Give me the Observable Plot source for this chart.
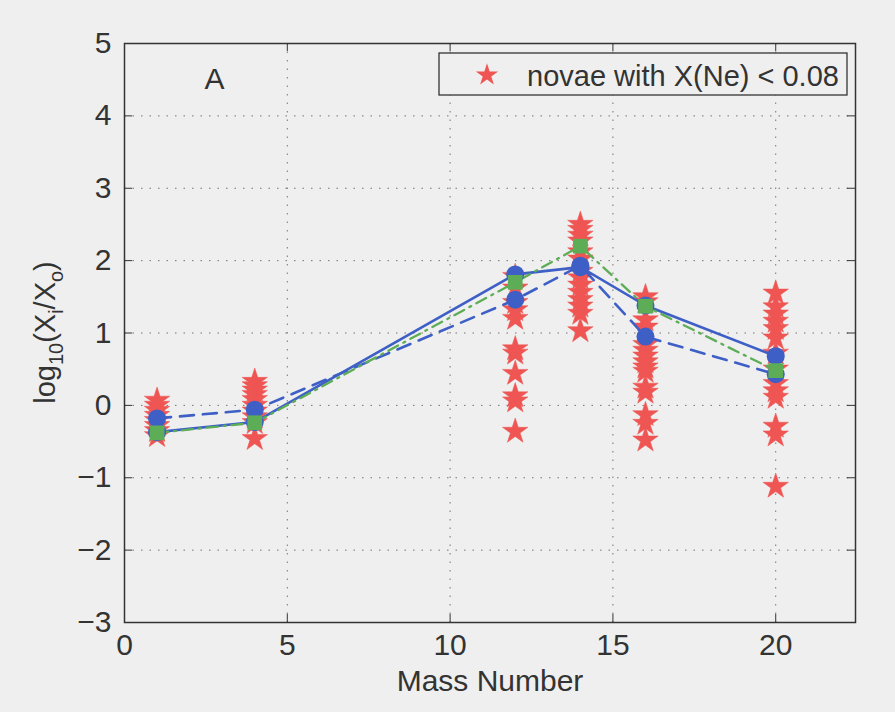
<!DOCTYPE html>
<html><head><meta charset="utf-8">
<script src="https://cdn.jsdelivr.net/npm/d3@7"></script>
<script src="https://cdn.jsdelivr.net/npm/@observablehq/plot@0.6"></script>
<style>
body{margin:0;background:#efefef;}
#chart svg{display:block;}
</style></head><body><div id="chart"></div>
<script>
// ---- data ----
const massNumbers = [1, 4, 12, 14, 16, 20];
const novaeA1  = [0.07, 0.0, -0.07, -0.14, -0.21, -0.28, -0.35, -0.42];
const novaeA4  = [0.33, 0.27, 0.21, 0.15, 0.08, 0.0, -0.08, -0.16, -0.24, -0.46];
const novaeA12 = [1.78, 1.62, 1.42, 1.32, 1.2, 0.78, 0.72, 0.44, 0.13, 0.06, -0.36];
const novaeA14 = [2.5, 2.43, 2.35, 2.27, 2.12, 2.02, 1.85, 1.76, 1.66, 1.56, 1.46, 1.37, 1.27, 1.03];
const novaeA16 = [1.5, 1.43, 1.18, 1.08, 0.84, 0.76, 0.68, 0.6, 0.53, 0.47, 0.25, 0.18, -0.13, -0.25, -0.48];
const novaeA20 = [1.55, 1.36, 1.26, 1.16, 1.06, 0.93, 0.72, 0.5, 0.3, 0.2, 0.11, -0.29, -0.41, -1.12];
const solidBlue    = [-0.37, -0.23, 1.81, 1.91, 1.38, 0.68];
const dashedBlue   = [-0.18, -0.06, 1.46, 1.93, 0.95, 0.43];
const dashDotGreen = [-0.38, -0.24, 1.70, 2.20, 1.37, 0.48];
const xTicks = [0, 5, 10, 15, 20];
const yTicks = [-3, -2, -1, 0, 1, 2, 3, 4, 5];
const legendLabel = "novae with X(Ne) < 0.08";
const panelLabel = "A";

// ---- tables ----
const novaeCols = [novaeA1, novaeA4, novaeA12, novaeA14, novaeA16, novaeA20];
const novae = novaeCols.flatMap((vals, i) => vals.map(v => ({mass: massNumbers[i], value: v})));
const toRows = arr => arr.map((v, i) => ({mass: massNumbers[i], value: v}));
const solid = toRows(solidBlue), dashed = toRows(dashedBlue), green = toRows(dashDotGreen);

const W = 895, H = 712, mL = 124, mR = 40, mT = 43, mB = 90;
const fw = W - mL - mR, fh = H - mT - mB;
const BLUE = "#3d5fc6", GREEN = "#5cad55", RED = "#ee5553", INK = "#333";
const font = "'Liberation Sans', Arial, Helvetica, sans-serif";
const fmt = d => String(d).replace("-", "\u2212");

const plot = Plot.plot({
  width: W, height: H,
  marginLeft: mL, marginRight: mR, marginTop: mT, marginBottom: mB,
  x: {domain: [0, 22.45], label: "Mass Number", labelArrow: "none"},
  y: {domain: [-3, 5], label: null},
  style: {background: "#efefef", fontFamily: font, fontSize: "30px", color: INK},
  marks: [
    Plot.gridX(xTicks, {stroke: "#666", strokeOpacity: 0.9, strokeDasharray: "1.5,7"}),
    Plot.gridY(yTicks, {stroke: "#666", strokeOpacity: 0.9, strokeDasharray: "1.5,7"}),
    Plot.dot(novae, {x: "mass", y: "value", symbol: "star", r: 8, fill: RED, stroke: RED, strokeWidth: 0.5}),
    Plot.line(solid, {x: "mass", y: "value", stroke: BLUE, strokeWidth: 2.6}),
    Plot.line(dashed, {x: "mass", y: "value", stroke: BLUE, strokeWidth: 2.6, strokeDasharray: "14,9"}),
    Plot.line(green, {x: "mass", y: "value", stroke: GREEN, strokeWidth: 2.3, strokeDasharray: "11,6,2,6"}),
    Plot.dot(solid, {x: "mass", y: "value", r: 9, fill: BLUE}),
    Plot.dot(dashed, {x: "mass", y: "value", r: 9, fill: BLUE}),
    Plot.dot(green, {x: "mass", y: "value", symbol: "square", r: 8.3, fill: GREEN}),
    Plot.frame({stroke: INK, strokeWidth: 1.5}),
    Plot.tickX(xTicks, {x: d => d, insetTop: fh - 8, stroke: INK}),
    Plot.tickX(xTicks, {x: d => d, insetBottom: fh - 8, stroke: INK}),
    Plot.tickY(yTicks, {y: d => d, insetRight: fw - 8, stroke: INK}),
    Plot.tickY(yTicks, {y: d => d, insetLeft: fw - 8, stroke: INK}),
    Plot.axisX(xTicks, {tickSize: 0, tickPadding: 11, tickFormat: fmt, label: "Mass Number", labelArrow: "none", labelAnchor: "center", labelOffset: 68, fill: INK}),
    Plot.axisY(yTicks, {tickSize: 0, tickPadding: 13, tickFormat: fmt, label: null, fill: INK}),
    Plot.text([panelLabel], {frameAnchor: "top-left", dx: 80, dy: 24, fontSize: 30, fill: INK, lineAnchor: "top"})
  ]
});

const svg = d3.select(plot);
// y axis label with subscripts
const yl = svg.append("text")
  .attr("transform", `translate(55,${mT + fh / 2}) rotate(-90)`)
  .attr("text-anchor", "middle")
  .attr("font-family", font).attr("font-size", 29).attr("fill", INK);
yl.append("tspan").text("log");
yl.append("tspan").attr("font-size", 20).attr("dy", 8).text("10");
yl.append("tspan").attr("dy", -8).text("(X");
yl.append("tspan").attr("font-size", 20).attr("dy", 8).text("i");
yl.append("tspan").attr("dy", -8).text("/X");
yl.append("tspan").attr("font-size", 20).attr("dy", 8).text("o");
yl.append("tspan").attr("dy", -8).text(")");

// legend box
const lg = svg.append("g");
lg.append("rect").attr("x", 439).attr("y", 53).attr("width", 408).attr("height", 42)
  .attr("fill", "#efefef").attr("stroke", INK).attr("stroke-width", 1.3);
lg.append("path").attr("d", d3.symbol(d3.symbolStar, Math.PI * 7 * 7)())
  .attr("transform", "translate(487,75)").attr("fill", RED);
lg.append("text").attr("x", 527).attr("y", 86).attr("text-anchor", "start").attr("font-family", font)
  .attr("font-size", 29).attr("fill", INK).text(legendLabel);

document.getElementById("chart").appendChild(plot);
</script></body></html>
